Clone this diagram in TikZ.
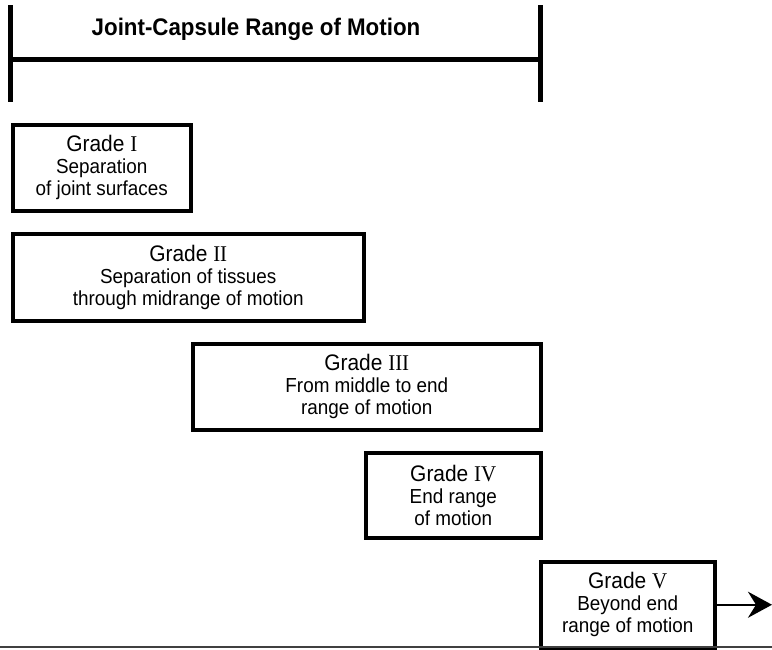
\documentclass[tikz,border=0pt]{standalone}
\usepackage{fontspec}
\setsansfont{Liberation Sans}[FakeStretch=0.93]
\newfontfamily\numfont{Liberation Serif}[FakeStretch=0.93]
\usetikzlibrary{arrows.meta,positioning}

\newcommand{\Gr}[1]{{\fontsize{22.5}{23}\selectfont Grade {\numfont #1}}}

\begin{document}
\begin{tikzpicture}[x=1pt,y=-1pt,
    grade/.style={draw,line width=3.5pt,anchor=north west,inner sep=0pt,
      align=center,font=\sffamily\fontsize{20.3}{22}\selectfont}]
  \useasboundingbox (0,0) rectangle (772,649);

  % range bracket
  \coordinate (topL) at (10,5);
  \coordinate (botL) at (10,102);
  \coordinate (topR) at (540,5);
  \coordinate (botR) at (540,102);
  \coordinate (midL) at (10,59);
  \coordinate (midR) at (540,59);
  \draw[line width=5pt] (topL) -- (botL) (topR) -- (botR);
  \draw[line width=5pt] (midL) -- (midR);
  \node[font=\sffamily\bfseries\fontsize{24}{26}\selectfont] (title) at (256,29)
    {Joint-Capsule Range of Motion};

  % grades
  \node[grade,minimum width=178pt,minimum height=86pt] (g1) at (11,123)
    {\Gr{I}\\Separation\\of joint surfaces};
  \node[grade,minimum width=351pt,minimum height=87pt] (g2) at (11,232)
    {\Gr{II}\\Separation of tissues\\through midrange of motion};
  \node[grade,minimum width=348pt,minimum height=86pt] (g3) at (191,342)
    {\Gr{III}\\From middle to end\\range of motion};
  \node[grade,minimum width=175pt,minimum height=85pt] (g4) at (364,451)
    {\Gr{IV}\\End range\\of motion};
  \node[grade,minimum width=174pt,minimum height=86pt] (g5) at (539,560)
    {\Gr{V}\\Beyond end\\range of motion};

  % baseline and arrow
  \coordinate (base0) at (0,647);
  \coordinate (base1) at (772,647);
  \draw[line width=2pt,black!75] (base0) -- (base1);
  \coordinate (beyond) at (772,603);
  \draw[line width=2.5pt,-{Stealth[length=24pt,width=26pt,inset=8pt]}]
    (g5.east) -- (g5.east -| beyond);
\end{tikzpicture}
\end{document}
